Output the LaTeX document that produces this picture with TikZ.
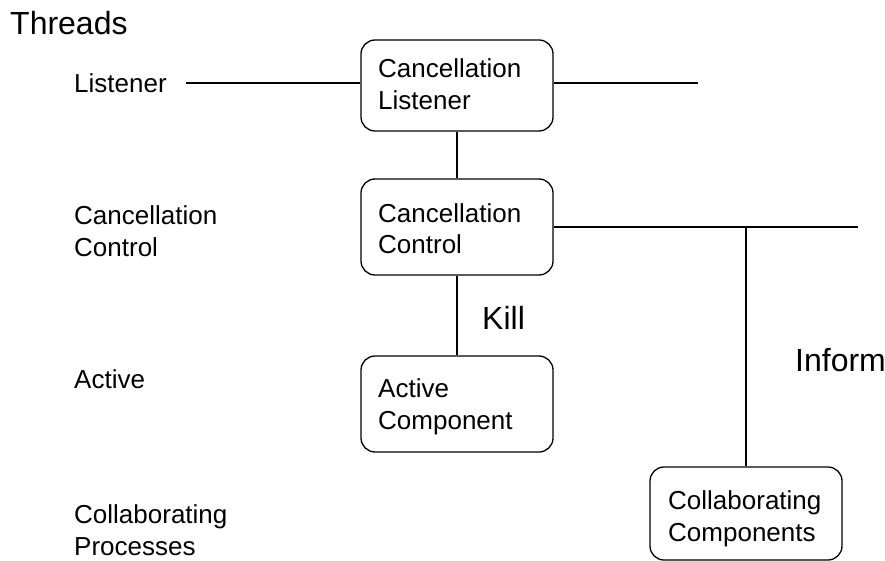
\documentclass[tikz,border=0pt]{standalone}
\usepackage{fontspec}
\setmainfont{Liberation Sans}
\begin{document}
\begin{tikzpicture}[x=1pt,y=-1pt,
  box/.style={draw, line width=1.3pt, rounded corners=14pt, inner sep=0pt},
  txt/.style={inner sep=0pt, anchor=base west, align=left,
    font=\fontsize{26}{32}\selectfont},
  big/.style={inner sep=0pt, anchor=base west,
    font=\fontsize{32}{36}\selectfont},
  wire/.style={line width=1.3pt}]
\useasboundingbox (0,0) rectangle (885,561);

% thread names on the left (multi-line nodes sit on their last baseline)
\node[big] (threads) at (10,35) {Threads};
\node[txt] (tlistener) at (74,93) {Listener};
\node[txt] (tcontrol) at (74,256) {Cancellation\\Control};
\node[txt] (tactive) at (74,388) {Active};
\node[txt] (tcollab) at (74,555) {Collaborating\\Processes};

% component boxes
\node[box, minimum width=192pt, minimum height=91pt] (listener) at (457,85.5) {};
\node[box, minimum width=192pt, minimum height=96pt] (control) at (457,227) {};
\node[box, minimum width=192pt, minimum height=96pt] (active) at (457,404) {};
\node[box, minimum width=192pt, minimum height=93pt] (collab) at (746,513.5) {};

\node[txt] at (378,110) {Cancellation\\Listener};
\node[txt] at (378,254) {Cancellation\\Control};
\node[txt] at (378,429) {Active\\Component};
\node[txt] at (668,541) {Collaborating\\Components};

% free ends of the thread lines
\coordinate (lstart) at (186,83);
\coordinate (lend) at (698,83);
\coordinate (cend) at (858,227);
\coordinate (branch) at (746,227);

% connectors
\draw[wire] (lstart) -- (listener.west |- lstart);
\draw[wire] (listener.east |- lend) -- (lend);
\draw[wire] (listener.south) -- (control.north);
\draw[wire] (control.south) -- (active.north);
\draw[wire] (control.east |- cend) -- (cend);
\draw[wire] (branch) -- (collab.north);

\node[big] (kill) at (482,329) {Kill};
\node[big] (inform) at (795,371) {Inform};
\end{tikzpicture}
\end{document}
